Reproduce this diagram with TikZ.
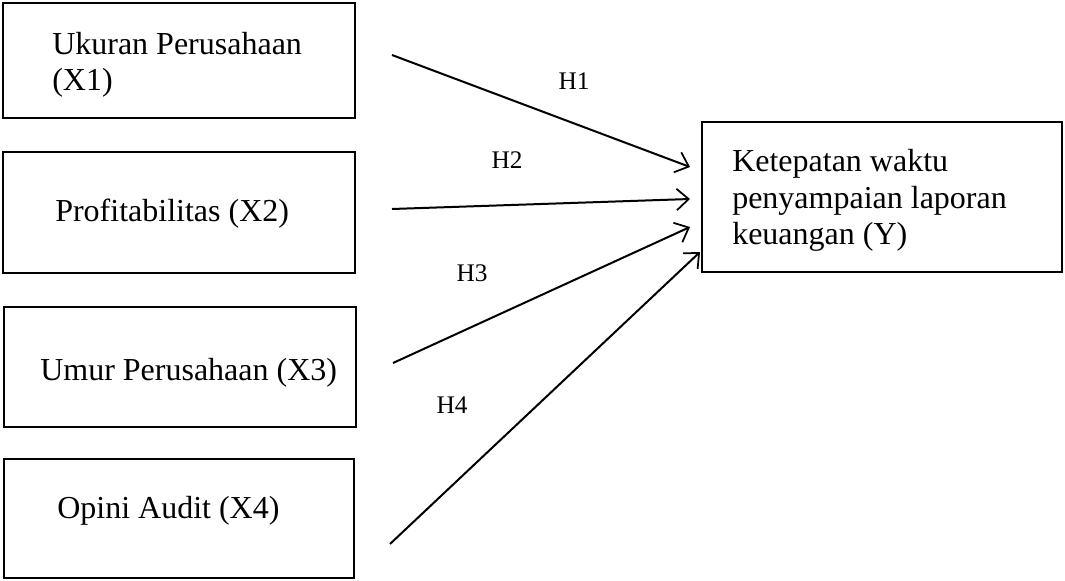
\documentclass[tikz,border=0pt]{standalone}
\usepackage{fontspec}
\setmainfont{Liberation Serif}
\usetikzlibrary{arrows.meta}
\begin{document}
\begin{tikzpicture}[x=0.75pt,y=-0.75pt,
  box/.style={draw, line width=0.8pt, inner sep=0pt},
  boxtext/.style={inner sep=0pt, anchor=base west, align=left, font=\fontsize{24}{27.5}\selectfont},
  hlabel/.style={inner sep=0pt, font=\fontsize{19}{22}\selectfont},
  link/.style={line width=1.5pt, -{Straight Barb[length=9pt, width=16pt, line width=1.3pt]}}]
\useasboundingbox (0,0) rectangle (1065,581);
% boxes
\node[box, minimum width=264pt, minimum height=86.25pt] (b1) at (179,60.5) {};
\node[box, minimum width=264pt, minimum height=90.75pt] (b2) at (179,212.5) {};
\node[box, minimum width=264pt, minimum height=90pt] (b3) at (180,367) {};
\node[box, minimum width=262.5pt, minimum height=89.25pt] (b4) at (179,518.5) {};
\node[box, minimum width=270pt, minimum height=112.5pt] (y) at (882,197) {};
% texts (multi-line: base = last line)
\node[boxtext] (t1) at (52,91) {Ukuran Perusahaan\\(X1)};
\node[boxtext] (t2) at (55,222) {Profitabilitas (X2)};
\node[boxtext] (t3) at (40,380) {Umur Perusahaan (X3)};
\node[boxtext] (t4) at (57,518) {Opini Audit (X4)};
\node[boxtext] (ty) at (732,245) {Ketepatan waktu\\penyampaian laporan\\keuangan (Y)};
% connector ends
\coordinate (s1) at (392,55);
\coordinate (s2) at (392,209);
\coordinate (s3) at (393,363);
\coordinate (s4) at (390,544);
\coordinate (e1) at (690,167);
\coordinate (e2) at (690,199);
\coordinate (e3) at (690,227);
\coordinate (e4) at (700,252);
\draw[link] (s1) -- (e1);
\draw[link] (s2) -- (e2);
\draw[link] (s3) -- (e3);
\draw[link] (s4) -- (e4);
% labels
\node[hlabel] (h1) at (574,81) {H1};
\node[hlabel] (h2) at (507,160) {H2};
\node[hlabel] (h3) at (472,273) {H3};
\node[hlabel] (h4) at (452,405) {H4};
\end{tikzpicture}
\end{document}
